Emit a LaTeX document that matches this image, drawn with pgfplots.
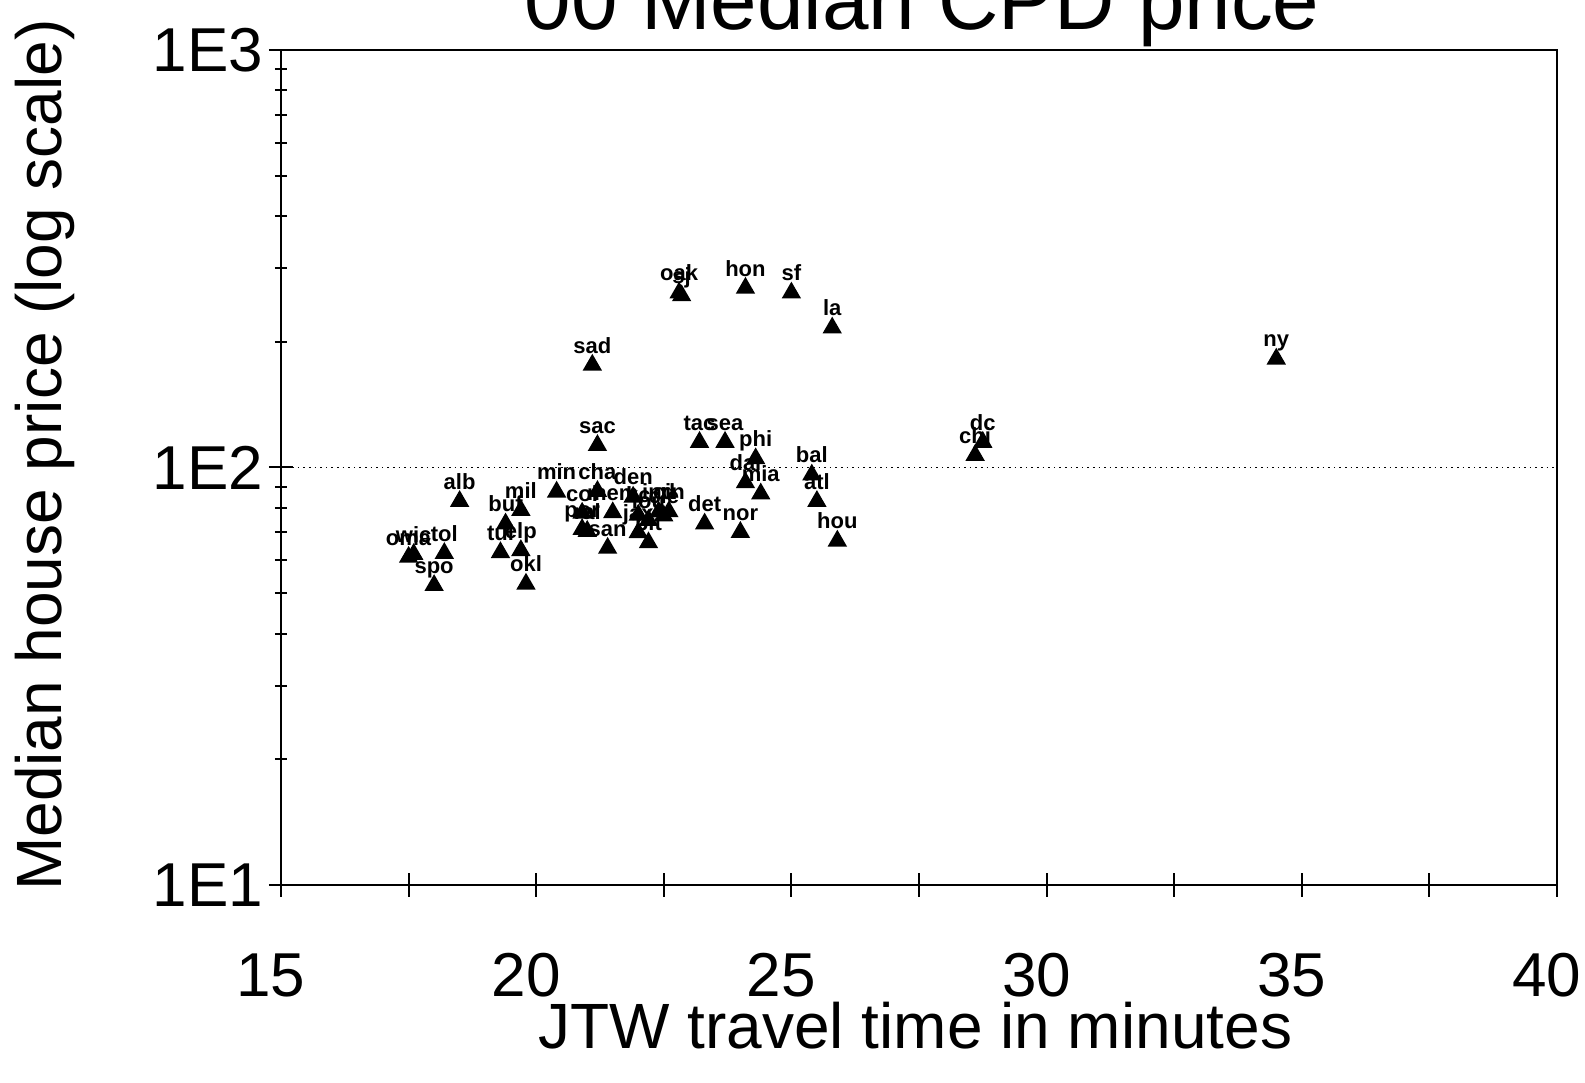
\documentclass[border=0pt]{standalone}
\usepackage{fontspec}
\setmainfont{Liberation Sans}
\usepackage{pgfplots}
\usepackage{pgfplotstable}
\pgfplotsset{compat=1.18}
\pgfplotstableread{
x y lab
34.5 182 ny
28.75 115 dc
28.6 107 chi
22.8 262 oak
22.85 258 sj
24.1 269 hon
25.0 262 sf
25.8 216 la
21.1 176 sad
21.2 113 sac
23.2 115 tac
23.7 115 sea
24.3 105 phi
24.1 92 dal
24.4 86.5 mia
25.4 96 bal
25.5 83 atl
23.3 73.3 det
24.0 70 nor
25.9 66.7 hou
18.5 83 alb
19.7 79 mil
19.4 73.3 buf
19.3 62.6 tul
19.7 63.3 elp
19.8 52.6 okl
17.5 61 oma
17.6 62 wic
18.2 62.3 tol
18.0 52.2 spo
20.4 87.4 min
21.2 87.7 cha
21.9 85 den
20.9 77.8 col
21.5 78 mem
22.0 77 kc
22.2 74.8 lou
22.4 78.3 ind
22.5 76.6 cle
22.6 78.4 cin
20.9 71.1 por
21.0 70.4 ral
22.0 69.9 jax
22.2 66.1 pit
21.4 64.1 san
}\data
\begin{document}
\begin{tikzpicture}
\path[use as bounding box] (-70.25pt,-49.25pt) rectangle (326pt,221.25pt);
\begin{axis}[
  scale only axis, width=319pt, height=208.75pt,
  xmin=15, xmax=40, ymin=10, ymax=1000, ymode=log,
  xtick={15,17.5,...,40},
  xticklabels={15,,20,,25,,30,,35,,40},
  ytick={10,100,1000}, yticklabels={1E1,1E2,1E3},
  minor ytick={20,30,40,50,60,70,80,90,200,300,400,500,600,700,800,900},
  xtick pos=bottom, ytick pos=left,
  tick align=center, major tick length=6pt, minor tick length=3pt,
  tick style={black, line width=0.5pt},
  axis line style={black, line width=0.5pt},
  ymajorgrids, major grid style={black, densely dotted, line width=0.4pt},
  ticklabel style={font=\fontsize{15.5}{18}\selectfont},
  xticklabel style={anchor=base, yshift=-24.8pt, xshift=-2.5pt},
  yticklabel style={anchor=east, xshift=2pt},
  xlabel={JTW travel time in minutes},
  ylabel={Median house price (log scale)},
  label style={font=\fontsize{16}{19}\selectfont},
  xlabel style={at={(axis description cs:0.497,-0.196)}, anchor=base},
  ylabel style={at={(axis description cs:-0.1846,0.515)}, anchor=center},
  clip=false,
]
\addplot[only marks, mark=triangle*, mark size=2.4pt, black,
  nodes near coords, point meta=explicit symbolic,
  every node near coord/.append style={anchor=base, yshift=3pt, inner sep=0pt,
    font=\fontsize{5.5}{6}\selectfont\bfseries, text=black}]
  table[x=x, y=y, meta=lab] {\data};
\node[anchor=base east, font=\fontsize{20.9}{24}\selectfont]
  at (rel axis cs:0.825,1) [yshift=5pt] {'00 Median CPD price};
\end{axis}
\end{tikzpicture}
\end{document}
